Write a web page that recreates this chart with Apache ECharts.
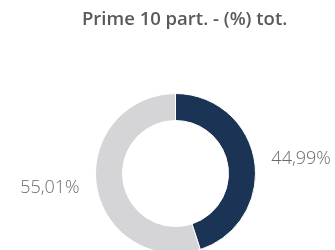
<!DOCTYPE html>
<html>
<head>
<meta charset="utf-8">
<script src="https://cdn.jsdelivr.net/npm/echarts@6/dist/echarts.min.js"></script>
<style>
  html, body { margin: 0; padding: 0; background: #fff; }
  #main { width: 335px; height: 250px; }
</style>
</head>
<body>
<div id="main"></div>
<script>
const names = ['Prime 10', 'Altri']
const values = [44.99, 55.01]
const labels = ['44,99%', '55,01%']
const colors = ['#1b3354', '#d5d5d7']

const chart = echarts.init(document.getElementById('main'))

chart.setOption({
    animation: false,
    title: {
        text: 'Prime 10 part. - (%) tot.',
        left: 77,
        top: 5,
        textStyle: {
            fontFamily: 'Open Sans',
            fontWeight: 600,
            fontSize: 18.5,
            color: '#595959'
        }
    },
    series: [{
        type: 'pie',
        center: [175.5, 173.5],
        radius: [53, 80],
        startAngle: 90,
        clockwise: true,
        itemStyle: { borderColor: '#fff', borderWidth: 1 },
        label: {
            show: true,
            position: 'outside',
            formatter: p => labels[p.dataIndex],
            overflow: 'none',
            fontFamily: 'Open Sans',
            fontWeight: 300,
            fontSize: 18,
            color: '#6b6b6b'
        },
        labelLine: { show: false, length: 12, length2: 0 },
        data: values.map((v, i) => ({
            name: names[i],
            value: v,
            itemStyle: { color: colors[i] }
        }))
    }]
})
</script>
</body>
</html>
